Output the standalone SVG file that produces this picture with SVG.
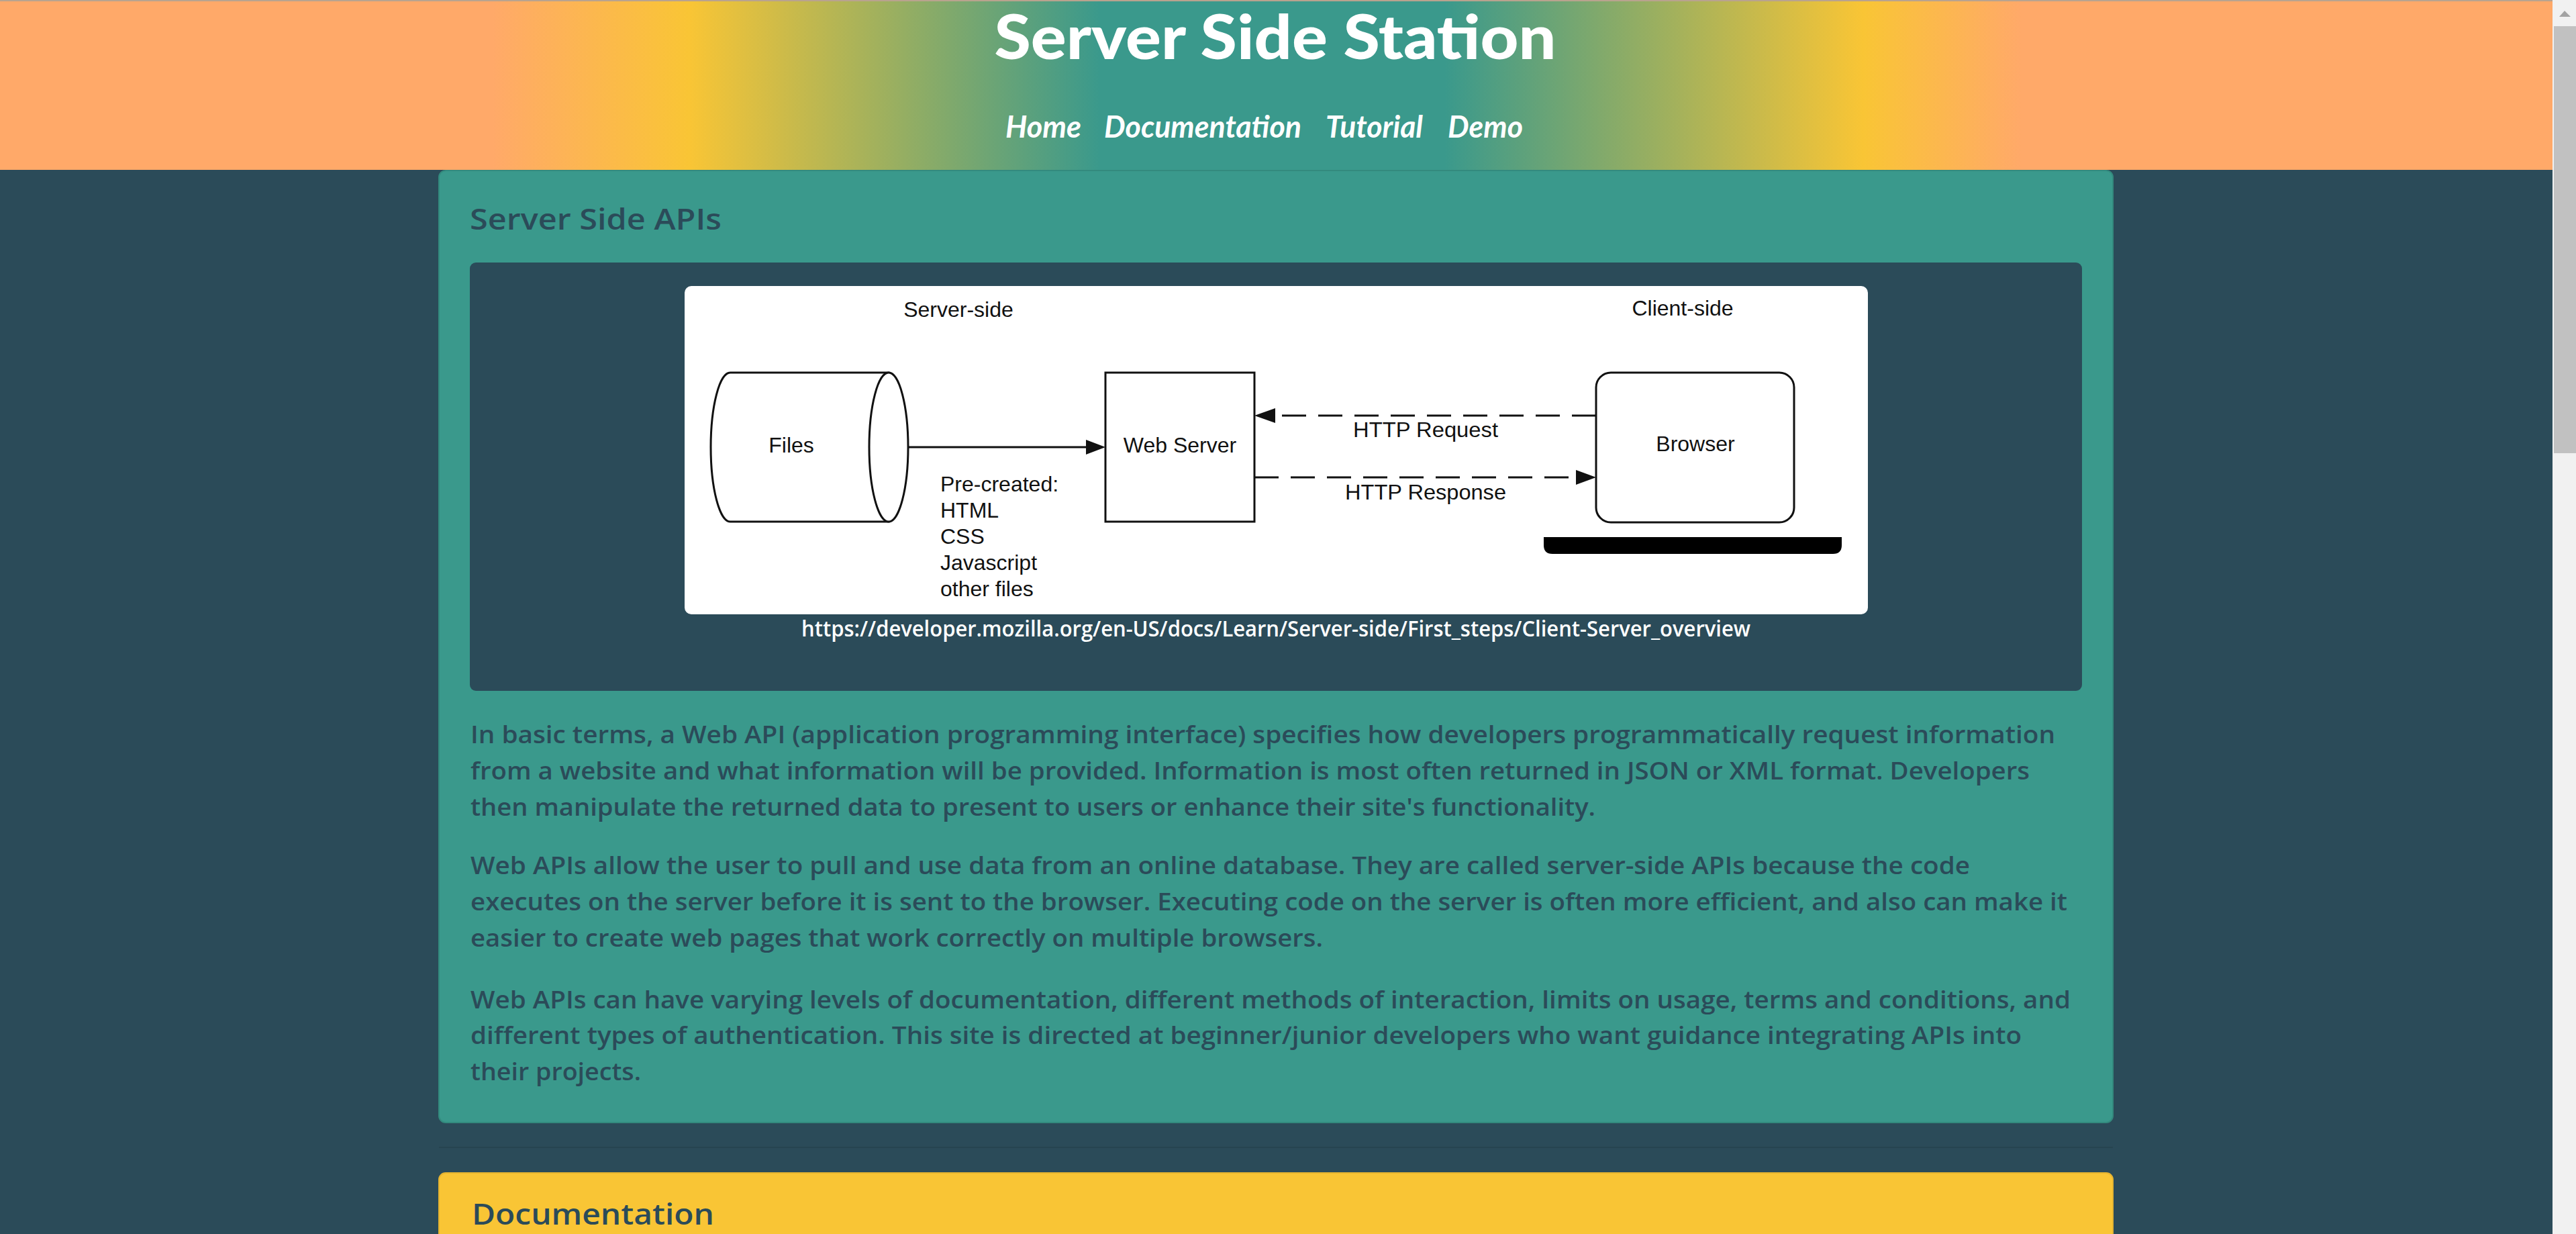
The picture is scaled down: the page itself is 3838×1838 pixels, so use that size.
<svg xmlns="http://www.w3.org/2000/svg" width="3838" height="1838" viewBox="0 0 3838 1838">
<defs>
<linearGradient id="hdr" gradientUnits="userSpaceOnUse" x1="0" y1="0" x2="3803" y2="0">
<stop offset="0" stop-color="#FFA969"/>
<stop offset="0.193" stop-color="#FFA969"/>
<stop offset="0.27" stop-color="#F9C535"/>
<stop offset="0.431" stop-color="#3A998C"/>
<stop offset="0.566" stop-color="#3A998C"/>
<stop offset="0.73" stop-color="#F9C535"/>
<stop offset="0.792" stop-color="#FFA969"/>
<stop offset="1" stop-color="#FFA969"/>
</linearGradient>
<style>
.nav{font-family:Lato,"Liberation Sans",sans-serif;font-style:italic;font-weight:700;font-size:45px;fill:#ffffff}
.h{font-family:"Open Sans","Noto Sans",sans-serif;font-weight:600;font-size:44px;fill:#2B4B59}
.p{font-family:"Open Sans","Noto Sans",sans-serif;font-weight:600;font-size:36px;fill:#2B4B59}
.d{font-family:"Liberation Sans",Arial,sans-serif;font-size:32px;fill:#111111}
.dm{font-family:"Liberation Sans",Arial,sans-serif;font-size:32px;fill:#111111;text-anchor:middle}
.shape{fill:#ffffff;stroke:#111111;stroke-width:3}
.dash{stroke:#111111;stroke-width:3;stroke-dasharray:36 18;fill:none}
.solid{stroke:#111111;stroke-width:3;fill:none}
.head{fill:#111111}
</style>
</defs>
<rect x="0" y="0" width="3838" height="1838" fill="#2B4B59"/>
<g id="header">
<rect x="0" y="0" width="3803" height="253" fill="url(#hdr)"/>
<rect x="0" y="0" width="3803" height="2" fill="#b9a38e"/>
<text x="1900" y="88" text-anchor="middle" font-family="Lato,'Liberation Sans',sans-serif" font-weight="900" font-size="92" fill="#ffffff" textLength="837" lengthAdjust="spacingAndGlyphs">Server Side Station</text>
</g>
<g id="nav">
<text class="nav" x="1498" y="205" textLength="113" lengthAdjust="spacingAndGlyphs">Home</text>
<text class="nav" x="1645" y="205" textLength="294" lengthAdjust="spacingAndGlyphs">Documentation</text>
<text class="nav" x="1975" y="205" textLength="145" lengthAdjust="spacingAndGlyphs">Tutorial</text>
<text class="nav" x="2157" y="205" textLength="112" lengthAdjust="spacingAndGlyphs">Demo</text>
</g>
<g id="scrollbar">
<rect x="3803" y="0" width="35" height="1838" fill="#f1f1f1"/>
<rect x="3805" y="39" width="33" height="636" fill="#c1c1c1"/>
<polygon points="3813,25 3821,16 3830,25" fill="#a3a3a3"/>
</g>
<g id="card-apis">
<rect x="654" y="254" width="2494" height="1418" rx="10" fill="#3A998C" stroke="#338a7e" stroke-width="2"/>
<text class="h" x="700" y="342" textLength="375" lengthAdjust="spacingAndGlyphs">Server Side APIs</text>
<rect x="700" y="391" width="2402" height="638" rx="9" fill="#2B4B59"/>
<rect x="1020" y="426" width="1763" height="489" rx="10" fill="#ffffff"/>
<text x="1901" y="948" text-anchor="middle" font-family="'Open Sans','Noto Sans',sans-serif" font-weight="600" font-size="32" fill="#ffffff" textLength="1414" lengthAdjust="spacingAndGlyphs">https://developer.mozilla.org/en-US/docs/Learn/Server-side/First_steps/Client-Server_overview</text>
</g>
<g id="labels">
<text class="dm" x="1428" y="472">Server-side</text>
<text class="dm" x="2507" y="470">Client-side</text>
</g>
<g id="files">
<path class="shape" d="M1088,555 L1324,555 L1324,777 L1088,777 A29,111 0 0 1 1088,555 Z"/>
<ellipse class="shape" cx="1324" cy="666" rx="29" ry="111"/>
<text class="dm" x="1179" y="674">Files</text>
</g>
<g id="web-server">
<rect class="shape" x="1647" y="555" width="222" height="222"/>
<text class="dm" x="1758" y="674">Web Server</text>
</g>
<g id="browser">
<rect class="shape" x="2378" y="555" width="295" height="223" rx="22"/>
<text class="dm" x="2526" y="672">Browser</text>
<path d="M2300,800 H2744 V812 Q2744,825 2731,825 H2313 Q2300,825 2300,812 Z" fill="#000000"/>
</g>
<g id="connectors">
<line class="solid" x1="1353" y1="666" x2="1620" y2="666"/>
<polygon class="head" points="1618,655 1647,666 1618,677"/>
<text class="d" x="1401" y="732">Pre-created:</text>
<text class="d" x="1401" y="771">HTML</text>
<text class="d" x="1401" y="810">CSS</text>
<text class="d" x="1401" y="849">Javascript</text>
<text class="d" x="1401" y="888">other files</text>
<line class="dash" x1="2378" y1="619" x2="1898" y2="619"/>
<polygon class="head" points="1900,608 1869,619 1900,630"/>
<text class="d" x="2016" y="651" textLength="216" lengthAdjust="spacingAndGlyphs">HTTP Request</text>
<line class="dash" x1="1869" y1="711" x2="2350" y2="711"/>
<polygon class="head" points="2348,700 2378,711 2348,722"/>
<text class="d" x="2004" y="744" textLength="240" lengthAdjust="spacingAndGlyphs">HTTP Response</text>
</g>
<g id="body-text">
<text class="p" x="701" y="1107" textLength="2361" lengthAdjust="spacingAndGlyphs">In basic terms, a Web API (application programming interface) specifies how developers programmatically request information</text>
<text class="p" x="701" y="1161" textLength="2323" lengthAdjust="spacingAndGlyphs">from a website and what information will be provided. Information is most often returned in JSON or XML format. Developers</text>
<text class="p" x="701" y="1215" textLength="1676" lengthAdjust="spacingAndGlyphs">then manipulate the returned data to present to users or enhance their site's functionality.</text>
<text class="p" x="701" y="1302" textLength="2234" lengthAdjust="spacingAndGlyphs">Web APIs allow the user to pull and use data from an online database. They are called server-side APIs because the code</text>
<text class="p" x="701" y="1356" textLength="2379" lengthAdjust="spacingAndGlyphs">executes on the server before it is sent to the browser. Executing code on the server is often more efficient, and also can make it</text>
<text class="p" x="701" y="1410" textLength="1270" lengthAdjust="spacingAndGlyphs">easier to create web pages that work correctly on multiple browsers.</text>
<text class="p" x="701" y="1502" textLength="2384" lengthAdjust="spacingAndGlyphs">Web APIs can have varying levels of documentation, different methods of interaction, limits on usage, terms and conditions, and</text>
<text class="p" x="701" y="1555" textLength="2311" lengthAdjust="spacingAndGlyphs">different types of authentication. This site is directed at beginner/junior developers who want guidance integrating APIs into</text>
<text class="p" x="701" y="1609" textLength="254" lengthAdjust="spacingAndGlyphs">their projects.</text>
</g>
<line x1="654" y1="1709" x2="3148" y2="1709" stroke="#264450" stroke-width="2"/>
<g id="card-docs">
<rect x="654" y="1747" width="2494" height="120" rx="10" fill="#F9C535" stroke="#e6b430" stroke-width="2"/>
<text class="h" x="703" y="1824" textLength="361" lengthAdjust="spacingAndGlyphs">Documentation</text>
</g>
</svg>
